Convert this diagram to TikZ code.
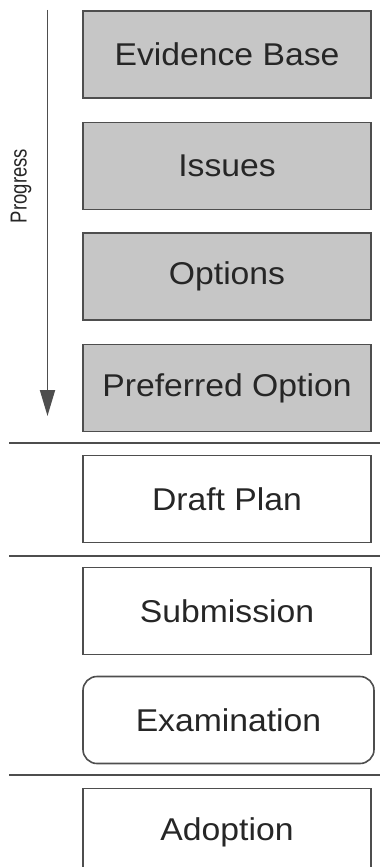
\documentclass[tikz,border=0pt]{standalone}
\usepackage{fontspec}
\setmainfont{Liberation Sans}
\usepackage{graphicx}
\usetikzlibrary{arrows.meta}
\definecolor{stagegray}{RGB}{198,198,198}
\definecolor{edgegray}{RGB}{78,78,78}
\definecolor{inkgray}{RGB}{38,38,38}
\newcommand{\wide}[1]{\scalebox{1.07}[1]{#1}}
\begin{document}
\begin{tikzpicture}
            [x=1pt,y=-1pt,
             Stage/.style={rectangle,draw=edgegray,line width=1.6pt,fill=white,
                 minimum width=288pt,minimum height=87pt,inner sep=0pt,
                 text=inkgray,font=\fontsize{31.5}{36}\selectfont},
             Done/.style={Stage,fill=stagegray},
             Divider/.style={draw=edgegray,line width=1.6pt}];
            \useasboundingbox (0,0) rectangle (380,867);

            \node[Done] (evidence) at (227,54.5) {\wide{Evidence Base}};
            \node[Done] (issues) at (227,166) {\wide{Issues}};
            \node[Done] (options) at (227,276.5) {\wide{Options}};
            \node[Done] (preferred) at (227,388) {\wide{Preferred Option}};
            \node[Stage] (draft) at (227,499) {\wide{Draft Plan}};
            \node[Stage] (submission) at (227,611) {\wide{Submission}};
            \node[Stage,rounded corners=14pt,minimum width=291pt] (examination) at (228.5,720) {\wide{Examination}};
            \node[Stage] (adoption) at (227,832) {\wide{Adoption}};

            \coordinate (p0) at (47.5,10);
            \coordinate (p1) at (47.5,416);
            \draw[edgegray,line width=1.8pt,-{Triangle[length=26pt,width=15pt]}] (p0) -- (p1);
            \node[text=inkgray,inner sep=0pt] (progress) at (21,186)
                {\scalebox{1.25}[1]{\rotatebox{90}{\fontsize{18.5}{22}\selectfont Progress}}};

            \coordinate (d1a) at (9,443);   \coordinate (d1b) at (380,443);
            \coordinate (d2a) at (9,556);   \coordinate (d2b) at (380,556);
            \coordinate (d3a) at (9,775);   \coordinate (d3b) at (380,775);
            \draw[Divider] (d1a) -- (d1b);
            \draw[Divider] (d2a) -- (d2b);
            \draw[Divider] (d3a) -- (d3b);
        \end{tikzpicture}
\end{document}
